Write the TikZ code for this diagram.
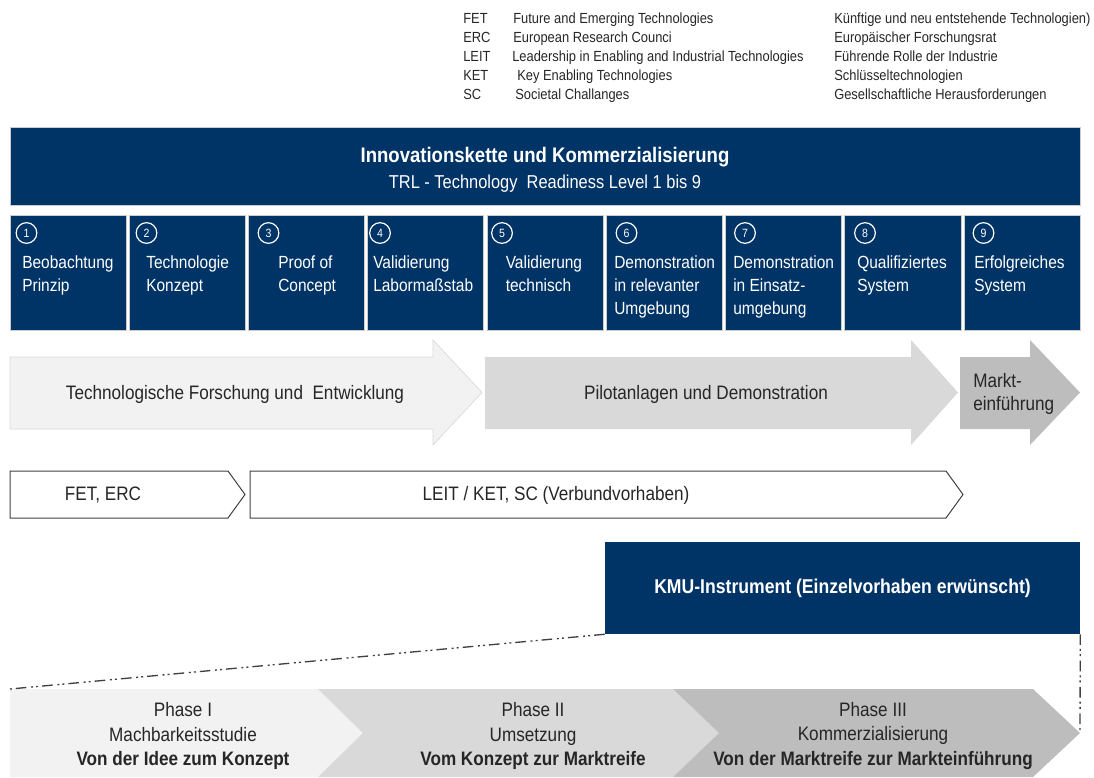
\documentclass[tikz,border=0pt]{standalone}
\usepackage{fontspec}
\setmainfont{Liberation Sans}[FakeStretch=0.88]
\usetikzlibrary{positioning,calc}

\definecolor{kmublau}{HTML}{003366}
\definecolor{grauA}{HTML}{F2F2F2}
\definecolor{grauB}{HTML}{D9D9D9}
\definecolor{grauC}{HTML}{BDBDBD}
\definecolor{schrift}{HTML}{262626}

\begin{document}
\begin{tikzpicture}[x=0.75pt, y=-0.75pt,
    kopf/.style={draw=black!20, fill=kmublau, minimum width=802.5pt, minimum height=58.5pt},
    trl/.style={draw=black!20, fill=kmublau, minimum width=87pt, minimum height=86.25pt},
    num/.style={circle, draw=white, line width=0.9pt, minimum size=15.5pt, inner sep=0pt, text=white, font=\fontsize{9}{10}\selectfont},
    lbl/.style={anchor=north west, inner sep=0pt, align=left, text=white, font=\fontsize{13.2}{17.6}\selectfont},
    leg/.style={anchor=base west, inner sep=0pt, text=schrift, font=\fontsize{11}{13}\selectfont},
    pfeil/.style={draw=black!15, line width=0.5pt},
    chev/.style={draw=black!75, line width=0.75pt, fill=white},
    txt/.style={inner sep=0pt, align=left, text=schrift, font=\fontsize{14.6}{16.8}\selectfont},
    kmu/.style={fill=kmublau, minimum width=356.25pt, minimum height=69pt, text=white, font=\bfseries\fontsize{15}{18}\selectfont},
    phase/.style={inner sep=0pt, align=center, text=schrift, font=\fontsize{14.6}{18.4}\selectfont},
    strichpunkt/.style={draw=black!75, line width=1pt, dash pattern=on 8pt off 3pt on 1.5pt off 2.3pt on 1.5pt off 3.5pt}
]
\useasboundingbox (0,0) rectangle (1094,777);

% Abkuerzungen
\node[leg] (lFET) at (463,23.5) {FET};
\node[leg] (lERC) at (463,42.5) {ERC};
\node[leg] (lLEIT) at (463,61.5) {LEIT};
\node[leg] (lKET) at (463,80.5) {KET};
\node[leg] (lSC) at (463,99.5) {SC};
\node[leg] (eFET) at (513,23.5) {Future and Emerging Technologies};
\node[leg] (eERC) at (513,42.5) {European Research Counci};
\node[leg] (eLEIT) at (512,61.5) {Leadership in Enabling and Industrial Technologies};
\node[leg] (eKET) at (517,80.5) {Key Enabling Technologies};
\node[leg] (eSC) at (515,99.5) {Societal Challanges};
\node[leg] (dFET) at (834,23.5) {Künftige und neu entstehende Technologien)};
\node[leg] (dERC) at (834,42.5) {Europäischer Forschungsrat};
\node[leg] (dLEIT) at (834,61.5) {Führende Rolle der Industrie};
\node[leg] (dKET) at (834,80.5) {Schlüsseltechnologien};
\node[leg] (dSC) at (834,99.5) {Gesellschaftliche Herausforderungen};

% Innovationskette
\node[kopf] (kette) at (545,166) {};
\node[text=white, font=\bfseries\fontsize{15.8}{18}\selectfont] (titel) at (545,157.5) {Innovationskette und Kommerzialisierung};
\node[text=white, font=\fontsize{14}{18}\selectfont] (untertitel) at (545,184) {TRL - Technology\ \ Readiness Level 1 bis 9};

% TRL 1-9
\node[trl] (trl1) at (68,272.5) {};
\node[trl] (trl2) at (187.25,272.5) {};
\node[trl] (trl3) at (306.5,272.5) {};
\node[trl] (trl4) at (425.75,272.5) {};
\node[trl] (trl5) at (545,272.5) {};
\node[trl] (trl6) at (664.25,272.5) {};
\node[trl] (trl7) at (783.5,272.5) {};
\node[trl] (trl8) at (902.75,272.5) {};
\node[trl] (trl9) at (1022,272.5) {};

\node[num] (n1) at (26.5,233) {1};
\node[num] (n2) at (146.5,233) {2};
\node[num] (n3) at (268.5,233) {3};
\node[num] (n4) at (380,233) {4};
\node[num] (n5) at (502,233) {5};
\node[num] (n6) at (626.5,233) {6};
\node[num] (n7) at (745,233) {7};
\node[num] (n8) at (865,233) {8};
\node[num] (n9) at (983.5,233) {9};

\node[lbl] (t1) at (22,255) {Beobachtung\\Prinzip};
\node[lbl] (t2) at (146,255) {Technologie\\Konzept};
\node[lbl] (t3) at (278,255) {Proof of\\Concept};
\node[lbl] (t4) at (373,255) {Validierung\\Labormaßstab};
\node[lbl] (t5) at (505.5,255) {Validierung\\technisch};
\node[lbl] (t6) at (614,255) {Demonstration\\in relevanter\\Umgebung};
\node[lbl] (t7) at (733,255) {Demonstration\\in Einsatz-\\umgebung};
\node[lbl] (t8) at (857,255) {Qualifiziertes\\System};
\node[lbl] (t9) at (974,255) {Erfolgreiches\\System};

% grosse Pfeile
\filldraw[pfeil, fill=grauA] (10,357) -- (433,357) -- (433,340) -- (482,392.5) -- (433,445) -- (433,429) -- (10,429) -- cycle;
\fill[grauB] (485,357) -- (911,357) -- (911,340) -- (958,392.5) -- (911,445) -- (911,429) -- (485,429) -- cycle;
\fill[grauC] (960,357) -- (1030,357) -- (1030,340) -- (1080,392.5) -- (1030,445) -- (1030,429) -- (960,429) -- cycle;
\node[txt] (fue) at (235,394) {Technologische Forschung und\ \ Entwicklung};
\node[txt] (pilot) at (706,394) {Pilotanlagen und Demonstration};
\node[txt, anchor=west] (markt) at (973,394) {Markt-\\einführung};

% Programme
\draw[chev] (10,471) -- (228,471) -- (245,494.5) -- (228,518) -- (10,518) -- cycle;
\draw[chev] (250,471) -- (946,471) -- (963,494.5) -- (946,518) -- (250,518) -- cycle;
\node[txt] (fet) at (103,495) {FET, ERC};
\node[txt] (leit) at (556,495) {LEIT / KET, SC (Verbundvorhaben)};

% KMU-Instrument
\node[kmu] (kmu) at (842.5,588) {KMU-Instrument (Einzelvorhaben erwünscht)};

% Phasen
\fill[grauA] (10,689) -- (318,689) -- (363,733) -- (318,777) -- (10,777) -- cycle;
\fill[grauB] (318,689) -- (673,689) -- (719,733) -- (673,777) -- (318,777) -- (363,733) -- cycle;
\fill[grauC] (673,689) -- (1033,689) -- (1080,733) -- (1033,777) -- (673,777) -- (719,733) -- cycle;
\coordinate (ph1) at (10,689);
\coordinate (ph3) at (1080,733);
\node[phase] (p1) at (183,736) {Phase I\\Machbarkeitsstudie\\\textbf{Von der Idee zum Konzept}};
\node[phase] (p2) at (533,736) {Phase II\\Umsetzung\\\textbf{Vom Konzept zur Marktreife}};
\node[phase] (p3) at (873,736) {Phase III\\Kommerzialisierung\\\textbf{Von der Marktreife zur Markteinführung}};

\draw[strichpunkt] (kmu.south west) -- (ph1);
\draw[strichpunkt] (kmu.south east) -- (ph3);
\end{tikzpicture}
\end{document}
